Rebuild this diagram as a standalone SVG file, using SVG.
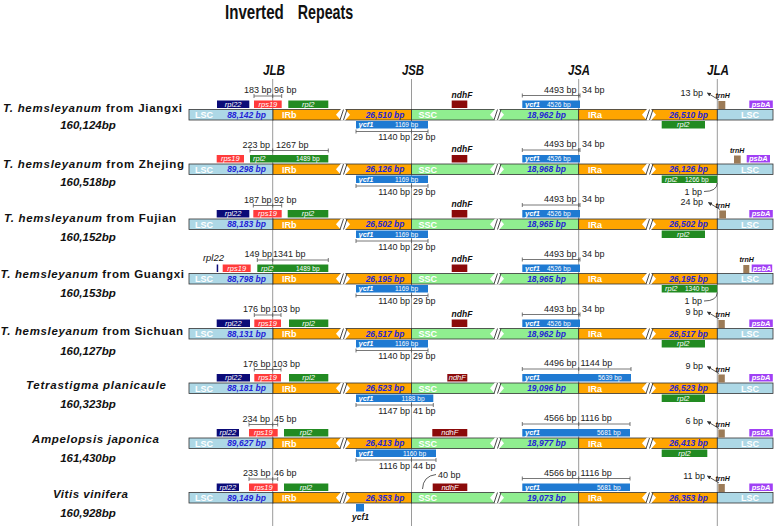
<svg xmlns="http://www.w3.org/2000/svg" width="777" height="526" viewBox="0 0 777 526">
<style>
text{font-family:"Liberation Sans",Arial,sans-serif}
.lsc{fill:#add8e6;stroke:#333;stroke-width:.8}
.ir{fill:#ffa500;stroke:#333;stroke-width:.8}
.ssc{fill:#90ee90;stroke:#333;stroke-width:.8}
.sl{font-weight:bold;font-size:9px;fill:#fff}
.bp{font-weight:bold;font-style:italic;font-size:8.5px;fill:#2424d6;text-anchor:middle}
.g{font-style:italic;font-size:7.5px;fill:#fff}
.b{font-weight:bold}
.gn{font-size:6.5px;fill:#fff}
.m{font-size:9px;fill:#222}
.e{text-anchor:end}
.c{text-anchor:middle}
.k{font-weight:bold;font-style:italic;font-size:8.5px;fill:#111}
.t{font-weight:bold;font-style:italic;font-size:7px;fill:#111}
.ml{stroke:#555;stroke-width:.8;fill:none}
.rpl22{fill:#0b0b78}.rps19{fill:#ff3b3b}.rpl2{fill:#228b22}.ndhF{fill:#8b0a0a}
.ycf1{fill:#1f7ad2}.trnH{fill:#9c7b57}.psbA{fill:#a040f5}
.jl{stroke:#9a9a9a;stroke-width:1}
.ar{stroke:#333;stroke-width:.8;fill:none}
.sp{font-weight:bold;font-size:11.5px;fill:#111}
.sz{font-weight:bold;font-style:italic;font-size:11.5px;fill:#111}
.jx{font-weight:bold;font-style:italic;font-size:15px;fill:#111}
.ti{font-weight:bold;font-size:21px;fill:#111}
</style>
<defs>
<marker id="ah" viewBox="0 0 6 6" refX="5" refY="3" markerWidth="4" markerHeight="4" markerUnits="userSpaceOnUse" orient="auto"><path d="M0,0L6,3L0,6z" fill="#333"/></marker>
<g id="brk"><polygon points="0,5.25 5,-0.6 9,-0.6 14,5.25 9,11.1 5,11.1" fill="#fff"/><path d="M4,10.5L7.5,0M7.5,10.5L11,0" stroke="#333" stroke-width=".9"/></g>
<g id="bar">
<rect class="lsc" x="189" width="84" height="10.5"/>
<rect class="ir" x="273" width="138.5" height="10.5"/>
<rect class="ssc" x="411.5" width="167.2" height="10.5"/>
<rect class="ir" x="578.7" width="138.6" height="10.5"/>
<rect class="lsc" x="717.3" width="55.7" height="10.5"/>
<use href="#brk" x="336"/><use href="#brk" x="490"/><use href="#brk" x="642"/>
<text class="sl" x="195" y="8.6">LSC</text><text class="sl" x="282" y="8.6">IRb</text><text class="sl" x="418.5" y="8.6">SSC</text><text class="sl" x="588" y="8.6">IRa</text><text class="sl c" x="750" y="8.6">LSC</text>
</g>
</defs>
<rect width="777" height="526" fill="#fff"/>
<g id="title">
<text class="ti" transform="translate(225,18.5) scale(0.72,1)">Inverted</text>
<text class="ti" transform="translate(297.7,18.5) scale(0.68,1)">Repeats</text>
</g>
<g id="junction-labels">
<text class="jx" x="263" y="75" textLength="22" lengthAdjust="spacingAndGlyphs">JLB</text>
<text class="jx" x="402" y="75" textLength="22" lengthAdjust="spacingAndGlyphs">JSB</text>
<text class="jx" x="568" y="75" textLength="22" lengthAdjust="spacingAndGlyphs">JSA</text>
<text class="jx" x="707" y="75" textLength="22" lengthAdjust="spacingAndGlyphs">JLA</text>
</g>
<g id="connectors">
<line class="jl" x1="272.7" y1="79" x2="272.7" y2="526"/>
<line class="jl" x1="411.5" y1="79" x2="411.5" y2="526"/>
<line class="jl" x1="578.7" y1="79" x2="578.7" y2="526"/>
<line class="jl" x1="717.3" y1="79" x2="717.3" y2="526"/>
<line class="ar" x1="719" y1="100" x2="707.5" y2="93" marker-end="url(#ah)"/>
<line class="ar" x1="720" y1="209.5" x2="708.5" y2="202.5" marker-end="url(#ah)"/>
<line class="ar" x1="719" y1="319" x2="707.5" y2="312" marker-end="url(#ah)"/>
<line class="ar" x1="719" y1="373.5" x2="707.5" y2="366.5" marker-end="url(#ah)"/>
<line class="ar" x1="719" y1="428.5" x2="707.5" y2="421.5" marker-end="url(#ah)"/>
<line class="ar" x1="719" y1="483" x2="707.5" y2="476" marker-end="url(#ah)"/>
<path class="ar" d="M717.3,183Q717,191.5 704,191.5"/>
<path class="ar" d="M717.3,292.5Q717,301 704,301"/>
<path class="ar" d="M422.5,489Q423,476 436,474.5"/>
</g>
<g id="labels">
<text class="sp" x="3" y="111.5" textLength="179"><tspan class="sz">T. hemsleyanum</tspan> from Jiangxi</text>
<text class="sz c" x="88" y="128.5">160,124bp</text>
<text class="sp" x="3" y="167.5" textLength="181"><tspan class="sz">T. hemsleyanum</tspan> from Zhejing</text>
<text class="sz c" x="88" y="186">160,518bp</text>
<text class="sp" x="4" y="222" textLength="172"><tspan class="sz">T. hemsleyanum</tspan> from Fujian</text>
<text class="sz c" x="88" y="240.5">160,152bp</text>
<text class="sp" x="0.5" y="277.5" textLength="183.5"><tspan class="sz">T. hemsleyanum</tspan> from Guangxi</text>
<text class="sz c" x="88" y="296.5">160,153bp</text>
<text class="sp" x="0.5" y="334.5" textLength="182.5"><tspan class="sz">T. hemsleyanum</tspan> from Sichuan</text>
<text class="sz c" x="88" y="355">160,127bp</text>
<text class="sz" x="26" y="389" textLength="140">Tetrastigma planicaule</text>
<text class="sz c" x="88" y="408">160,323bp</text>
<text class="sz" x="32" y="443" textLength="127">Ampelopsis japonica</text>
<text class="sz c" x="88" y="462">161,430bp</text>
<text class="sz" x="53" y="497.5" textLength="75">Vitis vinifera</text>
<text class="sz c" x="88" y="517">160,928bp</text>
</g>
<g id="row1" transform="translate(0,109.5)">
<use href="#bar"/>
<text class="bp" x="246.5" y="8.4">88,142 bp</text><text class="bp" x="385" y="8.4">26,510 bp</text><text class="bp" x="546.5" y="8.4">18,962 bp</text><text class="bp" x="688.5" y="8.4">26,510 bp</text>
<rect class="rpl22" x="217" y="-9" width="32.3" height="7.5"/><text class="g c" x="233.2" y="-2.6">rpl22</text>
<rect class="rps19" x="254" y="-9" width="27.7" height="7.5"/><text class="g c" x="267.9" y="-2.6">rps19</text>
<rect class="rpl2" x="288.3" y="-9" width="40" height="7.5"/><text class="g c" x="308.3" y="-2.6">rpl2</text>
<rect class="ndhF" x="451.7" y="-9" width="15.6" height="7.5"/><text class="k c" x="462" y="-12">ndhF</text>
<path class="ml" d="M254,-13.5H281.7M254,-15.5V-11.5M272.7,-15.5V-11.5M281.7,-15.5V-11.5"/>
<text class="m e" x="271.5" y="-16.5">183 bp</text><text class="m" x="274" y="-16.5">96 bp</text>
<rect class="ycf1" x="356" y="11.5" width="72" height="7.5"/><text class="g b" x="358.5" y="17.9">ycf1</text><text class="gn" x="395" y="17.7">1169 bp</text>
<path class="ml" d="M356,22H428M356,20V24M411.5,20V24M428,20V24"/>
<text class="m e" x="410" y="30.5">1140 bp</text><text class="m" x="413" y="30.5">29 bp</text>
<rect class="ycf1" x="522.3" y="-9" width="57.7" height="7.5"/><text class="g b" x="525" y="-2.6">ycf1</text><text class="gn" x="547" y="-2.8">4526 bp</text>
<path class="ml" d="M522.3,-14H580M522.3,-16V-12M578.7,-16V-12M580,-16V-12"/>
<text class="m e" x="576.5" y="-17">4493 bp</text><text class="m" x="582" y="-17">34 bp</text>
<text class="m e" x="703" y="-14">13 bp</text>
<text class="t" x="715.5" y="-11.5">trnH</text>
<rect class="trnH" x="718.3" y="-8.5" width="7" height="8"/>
<rect class="psbA" x="749.3" y="-9" width="23.5" height="7.5"/><text class="g b c" x="761" y="-2.6">psbA</text>
<rect class="rpl2" x="661.7" y="11.5" width="43.3" height="7.5"/><text class="g c" x="683.3" y="17.9">rpl2</text>
</g>
<g id="row2" transform="translate(0,164)">
<use href="#bar"/>
<text class="bp" x="246.5" y="8.4">89,298 bp</text><text class="bp" x="385" y="8.4">26,126 bp</text><text class="bp" x="546.5" y="8.4">18,968 bp</text><text class="bp" x="688.5" y="8.4">26,126 bp</text>
<rect class="rps19" x="216.7" y="-9" width="27.3" height="7.5"/><text class="g c" x="230.3" y="-2.6">rps19</text>
<rect class="rpl2" x="250" y="-9" width="78.3" height="7.5"/><text class="g" x="253" y="-2.6">rpl2</text><text class="gn" x="296" y="-2.8">1489 bp</text>
<rect class="ndhF" x="451.7" y="-9" width="15.6" height="7.5"/><text class="k c" x="462" y="-12">ndhF</text>
<path class="ml" d="M250,-13.5H328.3M250,-15.5V-11.5M272.7,-15.5V-11.5M328.3,-15.5V-11.5"/>
<text class="m e" x="270" y="-16.5">223 bp</text><text class="m" x="276" y="-16.5">1267 bp</text>
<rect class="ycf1" x="356" y="11.5" width="72" height="7.5"/><text class="g b" x="358.5" y="17.9">ycf1</text><text class="gn" x="395" y="17.7">1169 bp</text>
<path class="ml" d="M356,22H428M356,20V24M411.5,20V24M428,20V24"/>
<text class="m e" x="410" y="30.5">1140 bp</text><text class="m" x="413" y="30.5">29 bp</text>
<rect class="ycf1" x="522.3" y="-9" width="57.7" height="7.5"/><text class="g b" x="525" y="-2.6">ycf1</text><text class="gn" x="547" y="-2.8">4526 bp</text>
<path class="ml" d="M522.3,-14H580M522.3,-16V-12M578.7,-16V-12M580,-16V-12"/>
<text class="m e" x="576.5" y="-17">4493 bp</text><text class="m" x="582" y="-17">34 bp</text>
<text class="t" x="730" y="-11.5">trnH</text>
<rect class="trnH" x="734" y="-8.5" width="6.7" height="8"/>
<rect class="psbA" x="746.7" y="-9" width="23.3" height="7.5"/><text class="g b c" x="758.3" y="-2.6">psbA</text>
<rect class="rpl2" x="661.7" y="11.5" width="55.6" height="7.5"/><text class="g" x="665" y="17.9">rpl2</text><text class="gn" x="685" y="17.7">1266 bp</text>
<text class="m e" x="702" y="30.5">1 bp</text>
</g>
<g id="row3" transform="translate(0,219)">
<use href="#bar"/>
<text class="bp" x="246.5" y="8.4">88,183 bp</text><text class="bp" x="385" y="8.4">26,502 bp</text><text class="bp" x="546.5" y="8.4">18,965 bp</text><text class="bp" x="688.5" y="8.4">26,502 bp</text>
<rect class="rpl22" x="216.7" y="-9" width="32.6" height="7.5"/><text class="g c" x="233" y="-2.6">rpl22</text>
<rect class="rps19" x="253.3" y="-9" width="28.4" height="7.5"/><text class="g c" x="267.5" y="-2.6">rps19</text>
<rect class="rpl2" x="287.7" y="-9" width="40.6" height="7.5"/><text class="g c" x="308" y="-2.6">rpl2</text>
<rect class="ndhF" x="451.7" y="-9" width="15.6" height="7.5"/><text class="k c" x="462" y="-12">ndhF</text>
<path class="ml" d="M253.3,-13.5H281.7M253.3,-15.5V-11.5M272.7,-15.5V-11.5M281.7,-15.5V-11.5"/>
<text class="m e" x="271.5" y="-16.5">187 bp</text><text class="m" x="274" y="-16.5">92 bp</text>
<rect class="ycf1" x="356" y="11.5" width="72" height="7.5"/><text class="g b" x="358.5" y="17.9">ycf1</text><text class="gn" x="395" y="17.7">1169 bp</text>
<path class="ml" d="M356,22H428M356,20V24M411.5,20V24M428,20V24"/>
<text class="m e" x="410" y="30.5">1140 bp</text><text class="m" x="413" y="30.5">29 bp</text>
<rect class="ycf1" x="522.3" y="-9" width="57.7" height="7.5"/><text class="g b" x="525" y="-2.6">ycf1</text><text class="gn" x="547" y="-2.8">4526 bp</text>
<path class="ml" d="M522.3,-14H580M522.3,-16V-12M578.7,-16V-12M580,-16V-12"/>
<text class="m e" x="576.5" y="-17">4493 bp</text><text class="m" x="582" y="-17">34 bp</text>
<text class="m e" x="703" y="-14">24 bp</text>
<text class="t" x="715.5" y="-11.5">trnH</text>
<rect class="trnH" x="719.3" y="-8.5" width="6.7" height="8"/>
<rect class="psbA" x="749.3" y="-9" width="23.5" height="7.5"/><text class="g b c" x="761" y="-2.6">psbA</text>
<rect class="rpl2" x="661.7" y="11.5" width="43.3" height="7.5"/><text class="g c" x="683.3" y="17.9">rpl2</text>
</g>
<g id="row4" transform="translate(0,273.5)">
<use href="#bar"/>
<text class="bp" x="246.5" y="8.4">88,798 bp</text><text class="bp" x="385" y="8.4">26,195 bp</text><text class="bp" x="546.5" y="8.4">18,965 bp</text><text class="bp" x="688.5" y="8.4">26,195 bp</text>
<rect class="rpl22" x="216.7" y="-9" width="1.5" height="7.5"/><text x="224" y="-12.5" font-style="italic" font-size="9.5" fill="#111" text-anchor="end">rpl22</text>
<rect class="rps19" x="222.7" y="-9" width="28" height="7.5"/><text class="g c" x="236.7" y="-2.6">rps19</text>
<rect class="rpl2" x="257.3" y="-9" width="71" height="7.5"/><text class="g" x="261" y="-2.6">rpl2</text><text class="gn" x="296" y="-2.8">1489 bp</text>
<rect class="ndhF" x="451.7" y="-9" width="15.6" height="7.5"/><text class="k c" x="462" y="-12">ndhF</text>
<path class="ml" d="M257.3,-13.5H328.3M257.3,-15.5V-11.5M272.7,-15.5V-11.5M328.3,-15.5V-11.5"/>
<text class="m e" x="272" y="-16.5">149 bp</text><text class="m" x="273" y="-16.5">1341 bp</text>
<rect class="ycf1" x="356" y="11.5" width="72" height="7.5"/><text class="g b" x="358.5" y="17.9">ycf1</text><text class="gn" x="395" y="17.7">1169 bp</text>
<path class="ml" d="M356,22H428M356,20V24M411.5,20V24M428,20V24"/>
<text class="m e" x="410" y="30.5">1140 bp</text><text class="m" x="413" y="30.5">29 bp</text>
<rect class="ycf1" x="522.3" y="-9" width="57.7" height="7.5"/><text class="g b" x="525" y="-2.6">ycf1</text><text class="gn" x="547" y="-2.8">4526 bp</text>
<path class="ml" d="M522.3,-14H580M522.3,-16V-12M578.7,-16V-12M580,-16V-12"/>
<text class="m e" x="576.5" y="-17">4493 bp</text><text class="m" x="582" y="-17">34 bp</text>
<text class="t" x="739.5" y="-11.5">trnH</text>
<rect class="trnH" x="743.3" y="-8.5" width="6" height="8"/>
<rect class="psbA" x="751.7" y="-9" width="20.5" height="7.5"/><text class="g b c" x="762" y="-2.6">psbA</text>
<rect class="rpl2" x="661.7" y="11.5" width="55.6" height="7.5"/><text class="g" x="665" y="17.9">rpl2</text><text class="gn" x="685" y="17.7">1340 bp</text>
<text class="m e" x="702" y="30.5">1 bp</text>
</g>
<g id="row5" transform="translate(0,328.5)">
<use href="#bar"/>
<text class="bp" x="246.5" y="8.4">88,131 bp</text><text class="bp" x="385" y="8.4">26,517 bp</text><text class="bp" x="546.5" y="8.4">18,962 bp</text><text class="bp" x="688.5" y="8.4">26,517 bp</text>
<rect class="rpl22" x="216.7" y="-9" width="33.3" height="7.5"/><text class="g c" x="233.3" y="-2.6">rpl22</text>
<rect class="rps19" x="254.3" y="-9" width="26.7" height="7.5"/><text class="g c" x="267.6" y="-2.6">rps19</text>
<rect class="rpl2" x="289" y="-9" width="39.3" height="7.5"/><text class="g c" x="308.6" y="-2.6">rpl2</text>
<rect class="ndhF" x="451.7" y="-9" width="15.6" height="7.5"/><text class="k c" x="462" y="-12">ndhF</text>
<path class="ml" d="M254.3,-13.5H281M254.3,-15.5V-11.5M272.7,-15.5V-11.5M281,-15.5V-11.5"/>
<text class="m e" x="270.5" y="-16.5">176 bp</text><text class="m" x="272.5" y="-16.5">103 bp</text>
<rect class="ycf1" x="356" y="11.5" width="72" height="7.5"/><text class="g b" x="358.5" y="17.9">ycf1</text><text class="gn" x="395" y="17.7">1169 bp</text>
<path class="ml" d="M356,22H428M356,20V24M411.5,20V24M428,20V24"/>
<text class="m e" x="410" y="30.5">1140 bp</text><text class="m" x="413" y="30.5">29 bp</text>
<rect class="ycf1" x="522.3" y="-9" width="57.7" height="7.5"/><text class="g b" x="525" y="-2.6">ycf1</text><text class="gn" x="547" y="-2.8">4526 bp</text>
<path class="ml" d="M522.3,-14H580M522.3,-16V-12M578.7,-16V-12M580,-16V-12"/>
<text class="m e" x="576.5" y="-17">4493 bp</text><text class="m" x="582" y="-17">34 bp</text>
<text class="m e" x="703" y="-14">9 bp</text>
<text class="t" x="715.5" y="-11.5">trnH</text>
<rect class="trnH" x="718.3" y="-8.5" width="6.5" height="8"/>
<rect class="psbA" x="749.3" y="-9" width="23.5" height="7.5"/><text class="g b c" x="761" y="-2.6">psbA</text>
<rect class="rpl2" x="661.7" y="11.5" width="43.3" height="7.5"/><text class="g c" x="683.3" y="17.9">rpl2</text>
</g>
<g id="row6" transform="translate(0,383)">
<use href="#bar"/>
<text class="bp" x="246.5" y="8.4">88,181 bp</text><text class="bp" x="385" y="8.4">26,523 bp</text><text class="bp" x="546.5" y="8.4">19,096 bp</text><text class="bp" x="688.5" y="8.4">26,523 bp</text>
<rect class="rpl22" x="216.7" y="-9" width="33.3" height="7.5"/><text class="g c" x="233.3" y="-2.6">rpl22</text>
<rect class="rps19" x="254.3" y="-9" width="26.7" height="7.5"/><text class="g c" x="267.6" y="-2.6">rps19</text>
<rect class="rpl2" x="289" y="-9" width="39.3" height="7.5"/><text class="g c" x="308.6" y="-2.6">rpl2</text>
<rect class="ndhF" x="447.3" y="-9" width="20" height="7.5"/><text class="g c" x="457.3" y="-2.6">ndhF</text>
<path class="ml" d="M254.3,-13.5H281M254.3,-15.5V-11.5M272.7,-15.5V-11.5M281,-15.5V-11.5"/>
<text class="m e" x="270.5" y="-16.5">176 bp</text><text class="m" x="272.5" y="-16.5">103 bp</text>
<rect class="ycf1" x="356" y="11.5" width="77.3" height="7.5"/><text class="g b" x="358.5" y="17.9">ycf1</text><text class="gn" x="401.5" y="17.7">1188 bp</text>
<path class="ml" d="M356,22H433.3M356,20V24M411.5,20V24M433.3,20V24"/>
<text class="m e" x="410" y="30.5">1147 bp</text><text class="m" x="413" y="30.5">41 bp</text>
<rect class="ycf1" x="522.3" y="-9" width="108.7" height="7.5"/><text class="g b" x="525" y="-2.6">ycf1</text><text class="gn" x="598" y="-2.8">5639 bp</text>
<path class="ml" d="M522.3,-14H631M522.3,-16V-12M578.7,-16V-12M631,-16V-12"/>
<text class="m e" x="576.5" y="-17">4496 bp</text><text class="m" x="580.5" y="-17">1144 bp</text>
<text class="m e" x="703" y="-14">9 bp</text>
<text class="t" x="715.5" y="-11.5">trnH</text>
<rect class="trnH" x="718.3" y="-8.5" width="6.5" height="8"/>
<rect class="psbA" x="749.3" y="-9" width="23.5" height="7.5"/><text class="g b c" x="761" y="-2.6">psbA</text>
<rect class="rpl2" x="661.7" y="11.5" width="43.3" height="7.5"/><text class="g c" x="683.3" y="17.9">rpl2</text>
</g>
<g id="row7" transform="translate(0,438)">
<use href="#bar"/>
<text class="bp" x="246.5" y="8.4">89,627 bp</text><text class="bp" x="385" y="8.4">26,413 bp</text><text class="bp" x="546.5" y="8.4">18,977 bp</text><text class="bp" x="688.5" y="8.4">26,413 bp</text>
<rect class="rpl22" x="216.7" y="-9" width="22.3" height="7.5"/><text class="g c" x="227.8" y="-2.6">rpl22</text>
<rect class="rps19" x="249" y="-9" width="28.7" height="7.5"/><text class="g c" x="263.3" y="-2.6">rps19</text>
<rect class="rpl2" x="284" y="-9" width="44.3" height="7.5"/><text class="g c" x="306" y="-2.6">rpl2</text>
<rect class="ndhF" x="432.3" y="-9" width="35" height="7.5"/><text class="g c" x="449.8" y="-2.6">ndhF</text>
<path class="ml" d="M249,-13.5H277.7M249,-15.5V-11.5M272.7,-15.5V-11.5M277.7,-15.5V-11.5"/>
<text class="m e" x="270" y="-16.5">234 bp</text><text class="m" x="274" y="-16.5">45 bp</text>
<rect class="ycf1" x="356" y="11.5" width="80" height="7.5"/><text class="g b" x="358.5" y="17.9">ycf1</text><text class="gn" x="403" y="17.7">1160 bp</text>
<path class="ml" d="M356,22H436M356,20V24M411.5,20V24M436,20V24"/>
<text class="m e" x="410" y="30.5">1116 bp</text><text class="m" x="413" y="30.5">44 bp</text>
<rect class="ycf1" x="522.3" y="-9" width="107.7" height="7.5"/><text class="g b" x="525" y="-2.6">ycf1</text><text class="gn" x="597" y="-2.8">5681 bp</text>
<path class="ml" d="M522.3,-14H630M522.3,-16V-12M578.7,-16V-12M630,-16V-12"/>
<text class="m e" x="576.5" y="-17">4566 bp</text><text class="m" x="580.5" y="-17">1116 bp</text>
<text class="m e" x="703" y="-14">6 bp</text>
<text class="t" x="715.5" y="-11.5">trnH</text>
<rect class="trnH" x="718.3" y="-8.5" width="6.5" height="8"/>
<rect class="psbA" x="749.3" y="-9" width="23.5" height="7.5"/><text class="g b c" x="761" y="-2.6">psbA</text>
<rect class="rpl2" x="661.7" y="11.5" width="45.6" height="7.5"/><text class="g c" x="684.5" y="17.9">rpl2</text>
</g>
<g id="row8" transform="translate(0,492.5)">
<use href="#bar"/>
<text class="bp" x="246.5" y="8.4">89,149 bp</text><text class="bp" x="385" y="8.4">26,353 bp</text><text class="bp" x="546.5" y="8.4">19,073 bp</text><text class="bp" x="688.5" y="8.4">26,353 bp</text>
<rect class="rpl22" x="216.7" y="-9" width="22.3" height="7.5"/><text class="g c" x="227.8" y="-2.6">rpl22</text>
<rect class="rps19" x="249" y="-9" width="28.7" height="7.5"/><text class="g c" x="263.3" y="-2.6">rps19</text>
<rect class="rpl2" x="284" y="-9" width="44.3" height="7.5"/><text class="g c" x="306" y="-2.6">rpl2</text>
<rect class="ndhF" x="432.7" y="-9" width="34.6" height="7.5"/><text class="g c" x="450" y="-2.6">ndhF</text>
<path class="ml" d="M249,-13.5H277.7M249,-15.5V-11.5M272.7,-15.5V-11.5M277.7,-15.5V-11.5"/>
<text class="m e" x="270.5" y="-16.5">233 bp</text><text class="m" x="274" y="-16.5">46 bp</text>
<text class="m" x="438" y="-15">40 bp</text>
<rect class="ycf1" x="356" y="11.5" width="8" height="7.5"/><text class="k c" x="360.5" y="27">ycf1</text>
<rect class="ycf1" x="522.3" y="-9" width="107.7" height="7.5"/><text class="g b" x="525" y="-2.6">ycf1</text><text class="gn" x="597" y="-2.8">5681 bp</text>
<path class="ml" d="M522.3,-14H630M522.3,-16V-12M578.7,-16V-12M630,-16V-12"/>
<text class="m e" x="576.5" y="-17">4566 bp</text><text class="m" x="580.5" y="-17">1116 bp</text>
<text class="m e" x="705" y="-14">11 bp</text>
<text class="t" x="715.5" y="-11.5">trnH</text>
<rect class="trnH" x="718.3" y="-8.5" width="6.5" height="8"/>
<rect class="psbA" x="749.3" y="-9" width="23.5" height="7.5"/><text class="g b c" x="761" y="-2.6">psbA</text>
</g>
</svg>
